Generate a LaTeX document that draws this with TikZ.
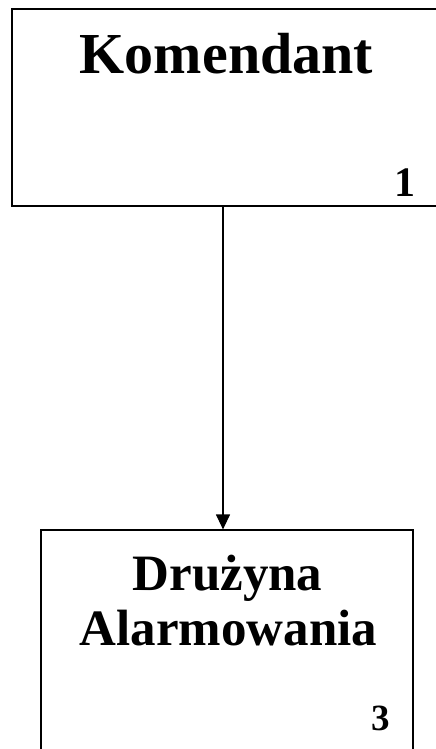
\documentclass[tikz,border=0pt]{standalone}
\usepackage{fontspec}
\setmainfont{Liberation Serif}
\usetikzlibrary{arrows.meta}
\begin{document}
\begin{tikzpicture}[x=1pt,y=-1pt,
  box/.style={draw,line width=1.2pt,rectangle,inner sep=0pt},
  title/.style={font=\bfseries\fontsize{58}{60}\selectfont,inner sep=0pt,anchor=base},
  subtitle/.style={font=\bfseries\fontsize{51}{56}\selectfont,inner sep=0pt,anchor=base},
  num/.style={font=\bfseries\fontsize{42}{44}\selectfont,inner sep=0pt,anchor=base east}]
\useasboundingbox (0,0) rectangle (436,749);
\node[box,minimum width=428pt,minimum height=197pt] (top) at (226,107.5) {};
\node[box,minimum width=372pt,minimum height=225pt] (bot) at (227,642.5) {};
\node[title] (t1) at (226.5,74) {Komendant};
\node[num] (n1) at (416,196) {1};
\node[subtitle] (t2) at (227.5,590) {Drużyna};
\node[subtitle] (t3) at (228.5,645) {Alarmowania};
\node[num,font=\bfseries\fontsize{37}{40}\selectfont] (n3) at (390,730) {3};
\draw[line width=1.2pt,-{Triangle[length=15pt,width=14pt]}] (top.south -| 223,0) -- (bot.north -| 223,0);
\end{tikzpicture}
\end{document}
